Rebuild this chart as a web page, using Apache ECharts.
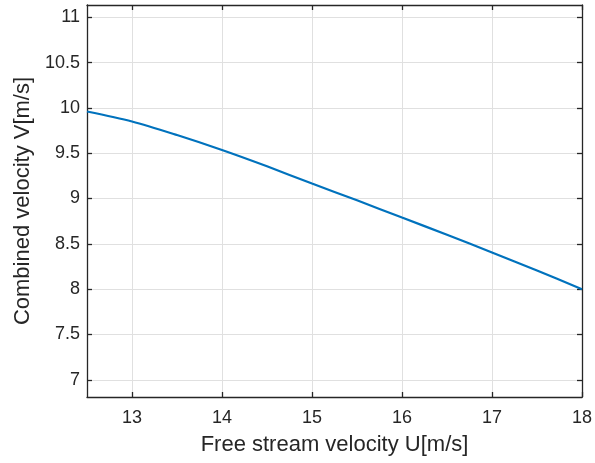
<!DOCTYPE html>
<html>
<head>
<meta charset="utf-8">
<script src="https://cdn.jsdelivr.net/npm/echarts@6/dist/echarts.min.js"></script>
<style>
  html, body { margin: 0; padding: 0; background: #fff; }
  #chart { width: 595px; height: 463px; }
</style>
</head>
<body>
<div id="chart"></div>
<script>
// Free stream velocity U [m/s]
const freeStream = [12.5, 13, 13.5, 14, 14.5, 15, 15.5, 16, 16.5, 17, 17.5, 18];
// Combined velocity V [m/s]
const combined = [9.96, 9.85, 9.70, 9.535, 9.355, 9.165, 8.98, 8.79, 8.60, 8.405, 8.205, 8.0];
// Tick positions
const xTicks = [13, 14, 15, 16, 17, 18];
const yTicks = [7, 7.5, 8, 8.5, 9, 9.5, 10, 10.5, 11];

const axisColor = '#262626';
const textColor = '#262626';
const gridColor = '#e0e0e0';
const font = '"Liberation Sans", Arial, Helvetica, sans-serif';

const chart = echarts.init(document.getElementById('chart'), null, { renderer: 'canvas' });

const baseX = {
  type: 'value', min: 12.5, max: 18,
  axisLine: { show: true, onZero: false, lineStyle: { color: axisColor, width: 1.3 } },
  axisTick: { show: true, inside: true, length: 5, customValues: xTicks, lineStyle: { color: axisColor, width: 1.3 } },
  axisLabel: { customValues: xTicks, color: textColor, fontSize: 18, fontFamily: font, margin: 12 },
  splitLine: { show: true, lineStyle: { color: gridColor, width: 1 } }
};
const baseY = {
  type: 'value', min: 6.81, max: 11.135,
  axisLine: { show: true, onZero: false, lineStyle: { color: axisColor, width: 1.3 } },
  axisTick: { show: true, inside: true, length: 5, customValues: yTicks, lineStyle: { color: axisColor, width: 1.3 } },
  axisLabel: { customValues: yTicks, color: textColor, fontSize: 18, fontFamily: font, margin: 7 },
  splitLine: { show: true, lineStyle: { color: gridColor, width: 1 } }
};

chart.setOption({
  animation: false,
  backgroundColor: '#fff',
  grid: { left: 87, right: 10, top: 5, bottom: 66, containLabel: false },
  xAxis: [
    Object.assign({}, baseX, {
      position: 'bottom',
      name: 'Free stream velocity U[m/s]',
      nameLocation: 'middle', nameGap: 37,
      nameTextStyle: { color: textColor, fontSize: 22, fontFamily: font }
    }),
    Object.assign({}, baseX, {
      position: 'top',
      axisLabel: { show: false },
      splitLine: { show: false }
    })
  ],
  yAxis: [
    Object.assign({}, baseY, {
      position: 'left',
      name: 'Combined velocity V[m/s]',
      nameLocation: 'middle', nameGap: 52,
      nameTextStyle: { color: textColor, fontSize: 22, fontFamily: font }
    }),
    Object.assign({}, baseY, {
      position: 'right',
      axisLabel: { show: false },
      splitLine: { show: false }
    })
  ],
  series: [{
    type: 'line',
    xAxisIndex: 0, yAxisIndex: 0,
    data: freeStream.map((u, i) => [u, combined[i]]),
    smooth: 0.3,
    showSymbol: false,
    lineStyle: { color: '#0072BD', width: 2.2 }
  }]
});
</script>
</body>
</html>
